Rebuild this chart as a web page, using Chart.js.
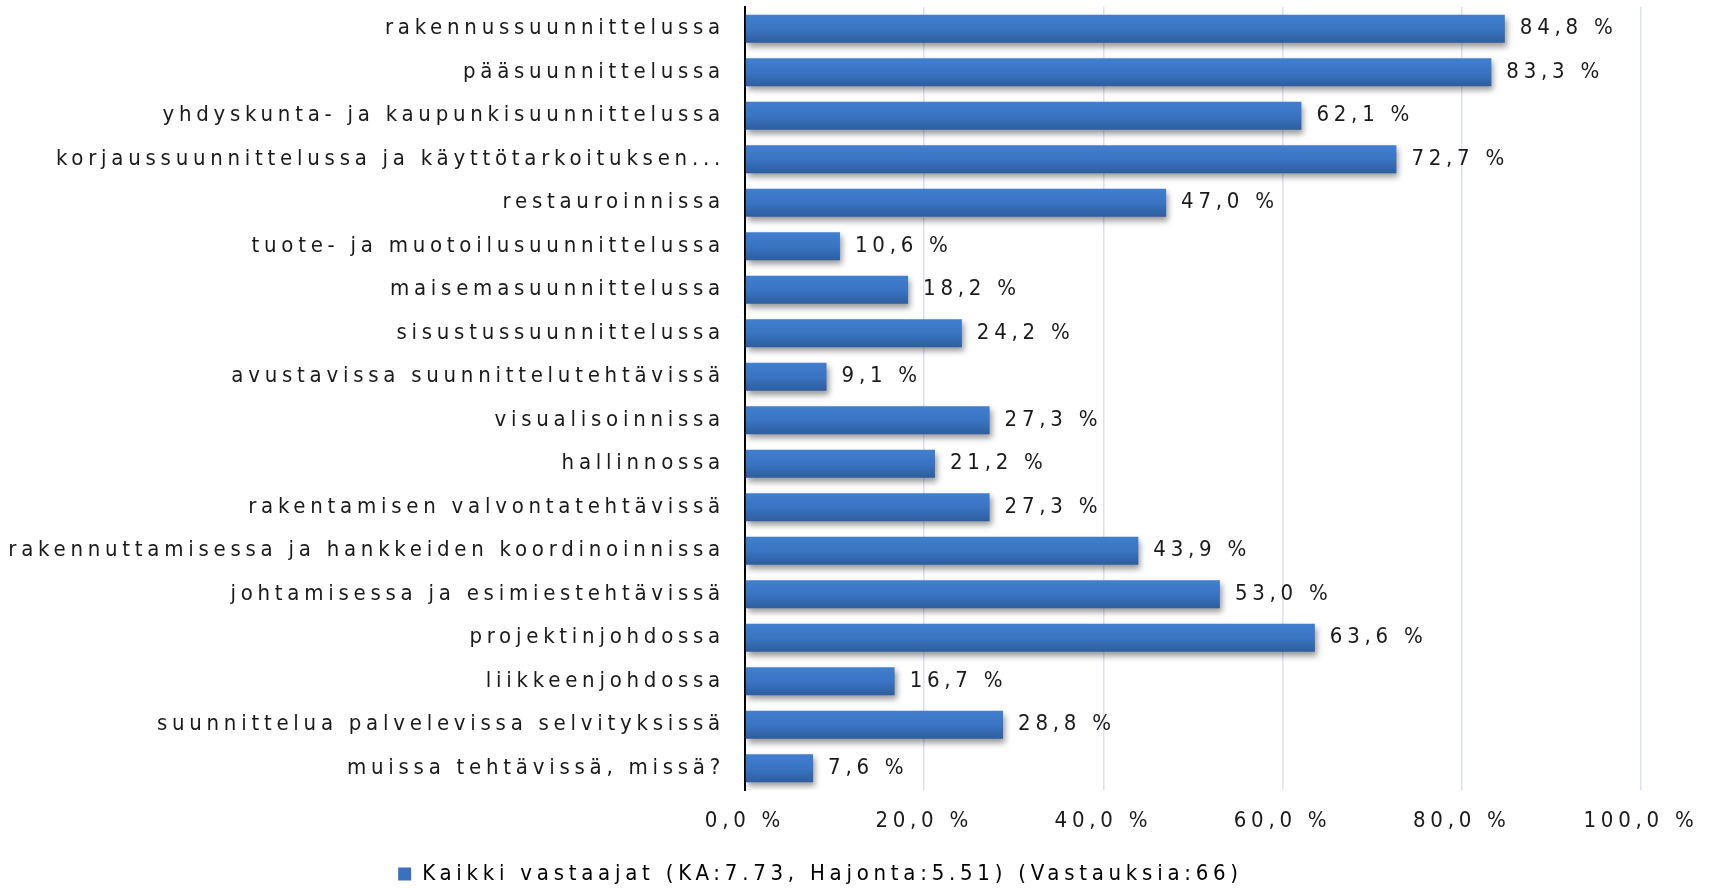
<!DOCTYPE html>
<html>
<head>
<meta charset="utf-8">
<script src="https://cdn.jsdelivr.net/npm/chart.js@4.4.1/dist/chart.umd.min.js"></script>
<style>
    body { margin: 0; background: #fff; }
    #wrap { width: 1713px; height: 889px; }
</style>
</head>
<body>
<div id="wrap"><canvas id="chart"></canvas></div>
<script>
const categories = [
    'rakennussuunnittelussa',
    'pääsuunnittelussa',
    'yhdyskunta- ja kaupunkisuunnittelussa',
    'korjaussuunnittelussa ja käyttötarkoituksen...',
    'restauroinnissa',
    'tuote- ja muotoilusuunnittelussa',
    'maisemasuunnittelussa',
    'sisustussuunnittelussa',
    'avustavissa suunnittelutehtävissä',
    'visualisoinnissa',
    'hallinnossa',
    'rakentamisen valvontatehtävissä',
    'rakennuttamisessa ja hankkeiden koordinoinnissa',
    'johtamisessa ja esimiestehtävissä',
    'projektinjohdossa',
    'liikkeenjohdossa',
    'suunnittelua palvelevissa selvityksissä',
    'muissa tehtävissä, missä?'
];
const values = [84.8, 83.3, 62.1, 72.7, 47.0, 10.6, 18.2, 24.2, 9.1, 27.3, 21.2, 27.3, 43.9, 53.0, 63.6, 16.7, 28.8, 7.6];
const seriesLabel = 'Kaikki vastaajat (KA:7.73, Hajonta:5.51) (Vastauksia:66)';
const xTicks = [0, 20, 40, 60, 80, 100];

const FONT = '"DejaVu Sans Condensed", "Liberation Sans", sans-serif';
const FONT_SIZE = 22;
const SPACING = '4.75px';
const TEXT = '#1a1a1a';

function fmt(v) {
    return v.toFixed(1).replace('.', ',') + ' %';
}

function barFill(context) {
    const chart = context.chart;
    const yScale = chart.scales.y;
    if (!chart.chartArea || !yScale) return '#3a70bd';
    const y = yScale.getPixelForTick(context.dataIndex);
    const half = 14;
    const g = chart.ctx.createLinearGradient(0, y - half, 0, y + half);
    g.addColorStop(0, '#417fcf');
    g.addColorStop(0.5, '#3a74c3');
    g.addColorStop(1, '#2d5e9e');
    return g;
}

// letter spacing, bar shadow and the value labels
const textPlugin = {
    id: 'textPlugin',
    beforeLayout(chart) {
        chart.ctx.letterSpacing = SPACING;
    },
    beforeDraw(chart) {
        chart.ctx.letterSpacing = SPACING;
    },
    beforeDatasetsDraw(chart) {
        const ctx = chart.ctx;
        ctx.save();
        ctx.shadowColor = 'rgba(0,0,0,0.4)';
        ctx.shadowBlur = 6;
        ctx.shadowOffsetX = 2;
        ctx.shadowOffsetY = 4;
    },
    afterDatasetsDraw(chart) {
        const ctx = chart.ctx;
        ctx.restore();
        const meta = chart.getDatasetMeta(0);
        ctx.save();
        ctx.font = FONT_SIZE + 'px ' + FONT;
        ctx.fillStyle = TEXT;
        ctx.textAlign = 'left';
        ctx.textBaseline = 'middle';
        meta.data.forEach((bar, i) => {
            ctx.fillText(fmt(values[i]), bar.x + 15, bar.y);
        });
        ctx.restore();
    }
};

const ctx = document.getElementById('chart').getContext('2d');
new Chart(ctx, {
    type: 'bar',
    data: {
        labels: categories,
        datasets: [{
            label: seriesLabel,
            data: values,
            backgroundColor: barFill,
            borderWidth: 0,
            categoryPercentage: 1,
            barPercentage: 0.64
        }]
    },
    options: {
        indexAxis: 'y',
        responsive: true,
        maintainAspectRatio: false,
        animation: false,
        layout: { padding: { top: 7, right: 72, left: 0, bottom: -6 } },
        plugins: {
            tooltip: { enabled: false },
            legend: {
                position: 'bottom',
                labels: {
                    color: TEXT,
                    font: { family: FONT, size: FONT_SIZE },
                    boxWidth: 13,
                    boxHeight: 13,
                    padding: 9,
                    generateLabels: () => [{
                        text: seriesLabel,
                        fillStyle: '#3a70bd',
                        strokeStyle: '#3a70bd',
                        lineWidth: 0,
                        datasetIndex: 0
                    }]
                }
            }
        },
        scales: {
            x: {
                min: 0,
                max: 100,
                afterBuildTicks: scale => { scale.ticks = xTicks.map(v => ({ value: v })); },
                afterFit: scale => {
                    scale.height = 64;
                    scale.paddingLeft = 0;
                    scale.paddingRight = 0;
                },
                ticks: {
                    color: TEXT,
                    font: { family: FONT, size: FONT_SIZE },
                    padding: 18,
                    maxRotation: 0,
                    callback: v => fmt(v)
                },
                grid: {
                    color: ctx => ctx.tick && ctx.tick.value === 0 ? 'rgba(0,0,0,0)' : '#d9e2ee',
                    lineWidth: 1.5,
                    drawTicks: false
                },
                border: { display: false }
            },
            y: {
                afterFit: scale => {
                    scale.width = 745;
                    scale.paddingTop = 0;
                    scale.paddingBottom = 0;
                },
                ticks: {
                    color: TEXT,
                    font: { family: FONT, size: FONT_SIZE },
                    padding: 20,
                    autoSkip: false
                },
                grid: { display: false, drawTicks: false },
                border: { display: true, color: '#000', width: 2 }
            }
        }
    },
    plugins: [textPlugin]
});
</script>
</body>
</html>
